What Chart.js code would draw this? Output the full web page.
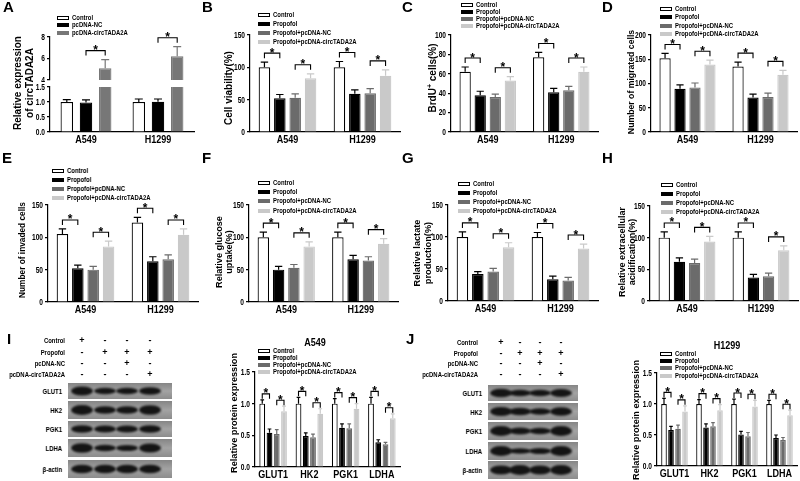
<!DOCTYPE html>
<html>
<head>
<meta charset="utf-8">
<script src="https://cdn.jsdelivr.net/npm/chart.js@4.4.0/dist/chart.umd.min.js"></script>
<style>
body { margin: 0; background: #fff; }
#fig { position: relative; width: 800px; height: 481px; overflow: hidden; background: #fff; filter: grayscale(1); font-family: "Liberation Sans", Arial, sans-serif; font-weight: bold; color: #000; }
#fig canvas { position: absolute; }
.letter { position: absolute; font-size: 15px; line-height: 15px; }
.ytitle { position: absolute; white-space: nowrap; line-height: 1.15; text-align: center; }
.legtxt { position: absolute; font-size: 8px; line-height: 8px; white-space: nowrap; transform-origin: 0 50%; transform: translateY(-50%) scaleX(0.74); }
.legbox { position: absolute; width: 12px; height: 4px; box-sizing: border-box; }
.txt { position: absolute; white-space: nowrap; }
</style>
</head>
<body>
<div id="fig"></div>
<script>
// categories
const cells = ['A549', 'H1299'];
const groupsA = ['Control', 'pcDNA-NC', 'pcDNA-circTADA2A'];
const groups = ['Control', 'Propofol', 'Propofol+pcDNA-NC', 'Propofol+pcDNA-circTADA2A'];
const proteins = ['GLUT1', 'HK2', 'PGK1', 'LDHA'];

// values, one array per group, one entry per category
const exprA = [[1.0, 1.0], [0.98, 1.01], [5.1, 6.2]];
const exprAErr = [[0.08, 0.1], [0.09, 0.09], [0.8, 0.9]];
const viabB = [[100, 100], [52, 59], [53, 60], [83, 87]];
const viabBErr = [[8, 9], [6, 6], [6, 7], [7, 9]];
const brduC = [[62, 77], [38, 41], [36, 43], [53, 62]];
const brduCErr = [[5, 5], [4, 4], [3, 4], [4, 5]];
const migD = [[152, 135], [89, 71], [92, 72], [139, 118]];
const migDErr = [[10, 9], [8, 7], [9, 8], [9, 9]];
const invE = [[105, 123], [52, 63], [50, 66], [86, 104]];
const invEErr = [[8, 8], [5, 7], [5, 7], [8, 9]];
const glucF = [[100, 100], [50, 66], [53, 64], [86, 90]];
const glucFErr = [[8, 8], [5, 6], [5, 6], [7, 8]];
const lactG = [[100, 100], [42, 34], [46, 32], [84, 82]];
const lactGErr = [[8, 7], [4, 5], [5, 5], [7, 7]];
const ecarH = [[100, 100], [62, 37], [60, 39], [94, 80]];
const ecarHErr = [[9, 9], [6, 5], [6, 5], [8, 7]];
const protI = [[1.0, 1.0, 1.0, 1.0], [0.54, 0.49, 0.62, 0.39], [0.52, 0.47, 0.61, 0.36], [0.88, 0.84, 0.92, 0.77]];
const protIErr = [[0.06, 0.1, 0.08, 0.1], [0.06, 0.05, 0.06, 0.04], [0.07, 0.05, 0.07, 0.03], [0.08, 0.08, 0.08, 0.07]];
const protJ = [[1.0, 1.0, 1.0, 1.0], [0.58, 0.62, 0.51, 0.45], [0.60, 0.64, 0.48, 0.42], [0.88, 0.90, 0.96, 0.82]];
const protJErr = [[0.09, 0.07, 0.08, 0.06], [0.06, 0.06, 0.05, 0.05], [0.06, 0.06, 0.06, 0.04], [0.09, 0.09, 0.1, 0.08]];

// tick labels
const ticksA_low = ['0.0', '0.5', '1.0', '1.5'];
const ticksA_up = ['4', '6', '8'];
const ticks150 = ['0', '50', '100', '150'];
const ticks100 = ['0', '20', '40', '60', '80', '100'];
const ticks200 = ['0', '50', '100', '150', '200'];
const ticksProt = ['0.0', '0.5', '1.0', '1.5'];

// blot lanes (+/-) and band strength per row
const blotRows = ['GLUT1', 'HK2', 'PGK1', 'LDHA', 'β-actin'];
const treatRows = ['Control', 'Propofol', 'pcDNA-NC', 'pcDNA-circTADA2A'];
const treatSigns = [['+', '-', '-', '-'], ['-', '+', '+', '+'], ['-', '-', '+', '-'], ['-', '-', '-', '+']];
const bandsI = [[1.0, 0.7, 0.7, 0.85], [1.0, 0.75, 0.75, 0.95], [0.85, 0.8, 0.8, 0.85], [0.95, 0.65, 0.6, 0.9], [0.85, 0.85, 0.85, 0.85]];
const bandsJ = [[0.95, 0.7, 0.7, 0.9], [0.95, 0.8, 0.7, 0.9], [1.0, 0.7, 0.65, 1.0], [1.0, 0.55, 0.6, 1.0], [0.9, 1.0, 0.9, 1.0]];

const fig = document.getElementById('fig');
const FONT = '"Liberation Sans", Arial, sans-serif';

const cols4 = [
  { fill: '#ffffff', line: '#000000', err: '#000000' },
  { fill: '#000000', line: '#000000', err: '#000000' },
  { fill: '#6b6b6b', line: '#6b6b6b', err: '#6b6b6b' },
  { fill: '#c9c9c9', line: '#c9c9c9', err: '#c9c9c9' }
];
const cols3 = [
  { fill: '#ffffff', line: '#000000', err: '#000000' },
  { fill: '#000000', line: '#000000', err: '#000000' },
  { fill: '#777777', line: '#777777', err: '#777777' }
];

// error bars (upper only) + significance brackets
const errorBars = {
  id: 'errorBars',
  afterDatasetsDraw(chart, args, opts) {
    const ctx = chart.ctx, y = chart.scales.y;
    ctx.save();
    chart.data.datasets.forEach((ds, di) => {
      chart.getDatasetMeta(di).data.forEach((bar, i) => {
        const v = ds.data[i], e = ds.errors[i];
        if (v > y.max || v < y.min) return;
        const y0 = y.getPixelForValue(v), y1 = y.getPixelForValue(Math.min(v + e, y.max));
        const hw = bar.width * 0.32;
        ctx.strokeStyle = ds.errColor;
        ctx.lineWidth = 1.2;
        ctx.beginPath();
        ctx.moveTo(bar.x, y0); ctx.lineTo(bar.x, y1);
        ctx.moveTo(bar.x - hw, y1); ctx.lineTo(bar.x + hw, y1);
        ctx.stroke();
      });
    });
    const top = (d, c) => {
      const ds = chart.data.datasets[d];
      return y.getPixelForValue(Math.min(ds.data[c] + ds.errors[c], y.max));
    };
    (opts.pairs || []).forEach(([c, a, b]) => {
      const ba = chart.getDatasetMeta(a).data[c], bb = chart.getDatasetMeta(b).data[c];
      const yb = Math.min(top(a, c), top(b, c)) - (opts.gap || 9);
      ctx.strokeStyle = '#000';
      ctx.lineWidth = 1.1;
      ctx.beginPath();
      ctx.moveTo(ba.x, yb + 5); ctx.lineTo(ba.x, yb); ctx.lineTo(bb.x, yb); ctx.lineTo(bb.x, yb + 5);
      ctx.stroke();
      ctx.fillStyle = '#000';
      ctx.font = 'bold 12px ' + FONT;
      ctx.textAlign = 'center';
      ctx.textBaseline = 'alphabetic';
      ctx.fillText('*', (ba.x + bb.x) / 2, yb + 3.5);
    });
    ctx.restore();
  }
};

// narrow bold tick / category labels, placed from the chart's own scales
const axisText = {
  id: 'axisText',
  afterDraw(chart, args, opts) {
    const ctx = chart.ctx, xs = chart.scales.x, ys = chart.scales.y, area = chart.chartArea;
    ctx.save();
    ctx.fillStyle = '#000';
    ctx.font = 'bold 8.5px ' + FONT;
    ctx.textAlign = 'right';
    ctx.textBaseline = 'middle';
    ys.ticks.forEach((t, i) => {
      ctx.save();
      ctx.translate(area.left - 5, ys.getPixelForTick(i));
      ctx.scale(0.78, 1);
      ctx.fillText(opts.yLabels[i] ?? t.value, 0, 0.5);
      ctx.restore();
    });
    if (opts.showX) {
      ctx.font = 'bold 11px ' + FONT;
      ctx.textAlign = 'center';
      ctx.textBaseline = 'top';
      chart.data.labels.forEach((l, i) => {
        ctx.save();
        ctx.translate(xs.getPixelForTick(i), area.bottom + 2.5);
        ctx.scale(0.82, 1);
        ctx.fillText(l, 0, 0);
        ctx.restore();
      });
    }
    ctx.restore();
  }
};

function makeChart(p) {
  const PADL = 34, PADT = 8, PADR = 4, PADB = p.showX === false ? 2 : 16;
  const cv = document.createElement('canvas');
  cv.width = p.right - p.left + PADL + PADR;
  cv.height = p.bottom - p.top + PADT + PADB;
  cv.style.left = (p.left - PADL) + 'px';
  cv.style.top = (p.top - PADT) + 'px';
  fig.appendChild(cv);
  new Chart(cv, {
    type: 'bar',
    data: {
      labels: p.labels,
      datasets: p.series.map((vals, k) => ({
        label: p.names[k],
        data: vals,
        errors: p.errs[k],
        backgroundColor: p.colors[k].fill,
        borderColor: p.colors[k].line,
        errColor: p.colors[k].err,
        borderWidth: 1.2,
        barPercentage: p.barPct || 0.75,
        categoryPercentage: p.catPct || 0.82,
        clip: 0
      }))
    },
    options: {
      responsive: false,
      animation: false,
      layout: { padding: { top: PADT, right: PADR, left: 0, bottom: 0 } },
      plugins: {
        legend: { display: false },
        tooltip: { enabled: false },
        errorBars: { pairs: p.pairs || [], gap: p.gap },
        axisText: { yLabels: p.ticks, showX: p.showX !== false }
      },
      scales: {
        x: {
          offset: true,
          grid: { display: false, drawTicks: false },
          border: { display: p.showX !== false, color: '#000', width: 1.2 },
          ticks: { display: false },
          afterFit: s => { s.height = PADB; }
        },
        y: {
          min: p.min, max: p.max,
          ticks: { display: false, stepSize: p.step },
          grid: { drawOnChartArea: false, tickLength: 3, color: '#000', lineWidth: 1.2 },
          border: { color: '#000', width: 1.2 },
          afterFit: s => { s.width = PADL; }
        }
      }
    },
    plugins: [errorBars, axisText]
  });
}

function addText(cls, x, y, html, extra) {
  const d = document.createElement('div');
  d.className = cls;
  d.style.left = x + 'px';
  d.style.top = y + 'px';
  d.innerHTML = html;
  if (extra) Object.assign(d.style, extra);
  fig.appendChild(d);
  return d;
}

function legend(x, ys, names, colors) {
  names.forEach((n, k) => {
    const b = addText('legbox', x, ys[k] - 2, '');
    b.style.background = colors[k].fill;
    b.style.border = '1.2px solid ' + colors[k].line;
    addText('legtxt', x + 15, ys[k], n);
  });
}

function yTitle(x, y, size, html) {
  addText('ytitle', x, y, html, { fontSize: size + 'px', transform: 'translate(-50%, -50%) rotate(-90deg)' });
}

const pairs4 = [[0, 0, 1], [0, 2, 3], [1, 0, 1], [1, 2, 3]];
const pairsProt = [0, 1, 2, 3].flatMap(c => [[c, 0, 1], [c, 2, 3]]);

// A: broken axis, two stacked charts
makeChart({ left: 50, right: 194, top: 87, bottom: 132, labels: cells, names: groupsA, series: exprA, errs: exprAErr,
  colors: cols3, min: 0, max: 1.5, step: 0.5, ticks: ticksA_low, barPct: 0.65, catPct: 0.8 });
makeChart({ left: 50, right: 194, top: 37, bottom: 80, labels: cells, names: groupsA, series: exprA, errs: exprAErr,
  colors: cols3, min: 4, max: 8, step: 2, ticks: ticksA_up, barPct: 0.65, catPct: 0.8, showX: false,
  pairs: [[0, 1, 2], [1, 1, 2]] });

const panels = [
  { left: 250, right: 400, top: 35, bottom: 132, series: viabB, errs: viabBErr, max: 150, step: 50, ticks: ticks150 },
  { left: 451, right: 598, top: 35, bottom: 132, series: brduC, errs: brduCErr, max: 100, step: 20, ticks: ticks100 },
  { left: 651, right: 797, top: 35, bottom: 132, series: migD, errs: migDErr, max: 200, step: 50, ticks: ticks200 },
  { left: 48, right: 198, top: 205, bottom: 302, series: invE, errs: invEErr, max: 150, step: 50, ticks: ticks150 },
  { left: 249, right: 398, top: 205, bottom: 302, series: glucF, errs: glucFErr, max: 150, step: 50, ticks: ticks150 },
  { left: 448, right: 598, top: 205, bottom: 301, series: lactG, errs: lactGErr, max: 150, step: 50, ticks: ticks150 },
  { left: 650, right: 798, top: 206, bottom: 301, series: ecarH, errs: ecarHErr, max: 150, step: 50, ticks: ticks150 }
];
panels.forEach(p => makeChart(Object.assign({ labels: cells, names: groups, colors: cols4, min: 0, pairs: pairs4 }, p)));

makeChart({ left: 255, right: 400, top: 372, bottom: 467, labels: proteins, names: groups, series: protI, errs: protIErr,
  colors: cols4, min: 0, max: 1.5, step: 0.5, ticks: ticksProt, barPct: 0.8, catPct: 0.8, pairs: pairsProt, gap: 6 });
makeChart({ left: 657, right: 797, top: 373, bottom: 466, labels: proteins, names: groups, series: protJ, errs: protJErr,
  colors: cols4, min: 0, max: 1.5, step: 0.5, ticks: ticksProt, barPct: 0.8, catPct: 0.8, pairs: pairsProt, gap: 6 });

// legends
legend(57, [18, 25, 33], groupsA, cols3);
legend(258, [15, 24, 33, 42], groups, cols4);
legend(461, [5, 12, 19, 26], groups, cols4);
legend(660, [9, 17, 26, 34], groups, cols4);
legend(52, [171, 180, 189, 198], groups, cols4);
legend(258, [183, 192, 201, 211], groups, cols4);
legend(458, [184, 193, 202, 211], groups, cols4);
legend(661, [185, 194, 203, 212], groups, cols4);
legend(258, [351, 358, 365, 372], groups, cols4);
legend(660, [354, 361, 368, 376], groups, cols4);

// y titles
yTitle(23, 83, 10, 'Relative expression<br>of circTADA2A');
yTitle(229, 88, 10, 'Cell viability(%)');
yTitle(432, 78, 10, 'BrdU<sup style="font-size:7px">+</sup> cells(%)');
yTitle(631, 82, 8.7, 'Number of migrated cells');
yTitle(23, 250, 8.3, 'Number of invaded cells');
yTitle(224, 252, 9.1, 'Relative glucose<br>uptake(%)');
yTitle(423, 253, 9.2, 'Relative lactate<br>production(%)');
yTitle(627, 252, 9, 'Relative extracellular<br>acidification(%)');
yTitle(234, 413, 9.2, 'Relative protein expression');
yTitle(636, 420, 9.2, 'Relative protein expression');

// chart titles for I / J
addText('txt', 315, 336, 'A549', { fontSize: '11px', transform: 'translateX(-50%) scaleX(0.82)' });
addText('txt', 727, 339, 'H1299', { fontSize: '11px', transform: 'translateX(-50%) scaleX(0.82)' });

// panel letters
[['A', 3, -1], ['B', 202, -1], ['C', 402, -1], ['D', 602, -1], ['E', 2, 150], ['F', 202, 150], ['G', 402, 150], ['H', 602, 150], ['I', 7, 331], ['J', 406, 331]]
  .forEach(([l, x, y]) => addText('letter', x, y, l));

// western blots
function blot(b) {
  const narrow = { fontSize: '8px', transformOrigin: '100% 50%', transform: 'translate(-100%,-50%) scaleX(0.74)' };
  treatRows.forEach((t, r) => {
    addText('txt', b.labelRight, b.headY[r], t, narrow);
    b.lanes.forEach((lx, k) => addText('txt', lx, b.headY[r], treatSigns[r][k], { fontSize: '9px', transform: 'translate(-50%,-50%)' }));
  });
  const cv = document.createElement('canvas');
  cv.width = b.x1 - b.x0; cv.height = b.rows[b.rows.length - 1][1] - b.rows[0][0];
  cv.style.left = b.x0 + 'px'; cv.style.top = b.rows[0][0] + 'px';
  fig.appendChild(cv);
  const ctx = cv.getContext('2d');
  const y0 = b.rows[0][0];
  blotRows.forEach((name, r) => {
    const [t, btm] = b.rows[r];
    const h = btm - t, cy = (t + btm) / 2 - y0;
    const g = ctx.createLinearGradient(0, t - y0, 0, btm - y0);
    g.addColorStop(0, '#858585'); g.addColorStop(0.5, '#a3a3a3'); g.addColorStop(1, '#8c8c8c');
    ctx.fillStyle = g;
    ctx.fillRect(0, t - y0, cv.width, h);
    ctx.save();
    ctx.filter = 'blur(1.3px)';
    ctx.fillStyle = '#141414';
    b.lanes.forEach((lx, k) => {
      const s = b.bands[r][k];
      ctx.beginPath();
      ctx.ellipse(lx - b.x0, cy, 11, h * 0.28 * s, 0, 0, Math.PI * 2);
      ctx.fill();
    });
    ctx.restore();
    addText('txt', b.nameRight, (t + btm) / 2, name, narrow);
  });
}
blot({ x0: 68, x1: 172, labelRight: 65, nameRight: 62, headY: [340, 352, 363, 374], lanes: [82, 105, 127, 150],
  rows: [[383, 399], [401, 419], [421, 437], [439, 457], [460, 478]], bands: bandsI });
blot({ x0: 488, x1: 578, labelRight: 478, nameRight: 482, headY: [342, 353, 363, 374], lanes: [501, 520, 540, 561],
  rows: [[385, 401], [403, 420], [422, 440], [442, 460], [461, 479]], bands: bandsJ });
</script>
</body>
</html>
